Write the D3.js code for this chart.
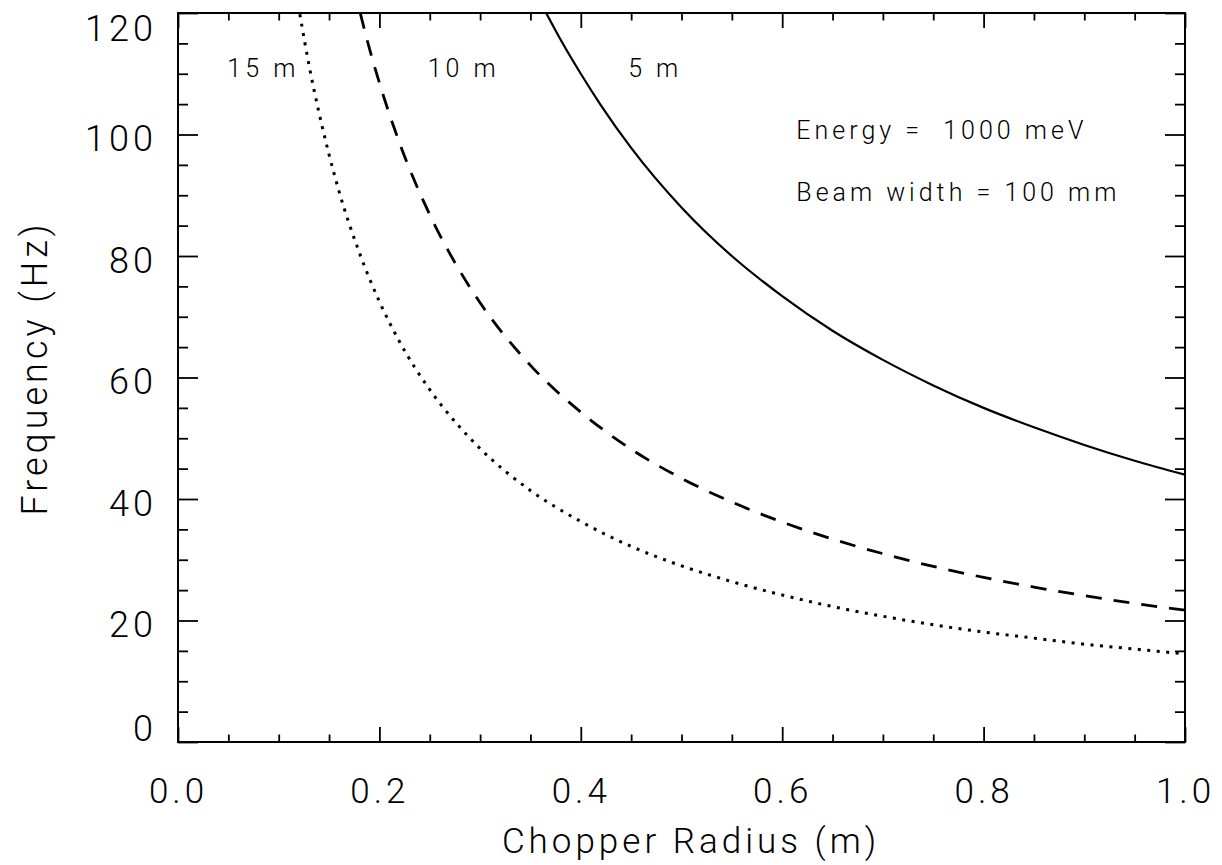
<!DOCTYPE html>
<html>
<head>
<meta charset="utf-8">
<script src="https://cdn.jsdelivr.net/npm/d3@7"></script>
<style>
  body { margin: 0; background: #fff; }
  svg text { font-family: Roboto, "DejaVu Sans", sans-serif; font-weight: 300; fill: #000; }
</style>
</head>
<body>
<svg id="chart"></svg>
<script>
// values (frequency in Hz vs chopper radius in m)
const radius5 = [0.364, 0.38, 0.40, 0.42, 0.45, 0.50, 0.55, 0.60, 0.65, 0.70, 0.75, 0.80, 0.85, 0.90, 0.95, 1.00];
const freq5 = [120.5, 115.6, 110.0, 104.8, 97.8, 88.0, 80.0, 73.4, 67.7, 62.9, 58.7, 55.0, 51.8, 48.9, 46.3, 44.0];

const radius10 = [0.181, 0.19, 0.20, 0.22, 0.25, 0.28, 0.30, 0.35, 0.40, 0.45, 0.50, 0.55, 0.60, 0.65, 0.70, 0.75, 0.80, 0.85, 0.90, 0.95, 1.00];
const freq10 = [120.0, 114.2, 108.5, 98.6, 86.8, 77.5, 72.3, 62.0, 54.3, 48.2, 43.4, 39.5, 36.2, 33.4, 31.0, 28.9, 27.1, 25.5, 24.1, 22.8, 21.7];

const radius15 = [0.121, 0.13, 0.14, 0.15, 0.16, 0.18, 0.20, 0.22, 0.25, 0.28, 0.30, 0.35, 0.40, 0.45, 0.50, 0.55, 0.60, 0.65, 0.70, 0.75, 0.80, 0.85, 0.90, 0.95, 1.00];
const freq15 = [119.8, 111.5, 103.6, 96.7, 90.6, 80.6, 72.5, 65.9, 58.0, 51.8, 48.3, 41.4, 36.3, 32.2, 29.0, 26.4, 24.2, 22.3, 20.7, 19.3, 18.1, 17.1, 16.1, 15.3, 14.5];

const seriesNames = ["5 m", "10 m", "15 m"];
const xTicks = [0, 0.2, 0.4, 0.6, 0.8, 1.0];
const xMinor = [0.05, 0.1, 0.15, 0.25, 0.3, 0.35, 0.45, 0.5, 0.55, 0.65, 0.7, 0.75, 0.85, 0.9, 0.95];
const yTicks = [0, 20, 40, 60, 80, 100, 120];
const yMinor = [5, 10, 15, 25, 30, 35, 45, 50, 55, 65, 70, 75, 85, 90, 95, 105, 110, 115];
const notes = ["Energy =  1000 meV", "Beam width = 100 mm"];
const xTitle = "Chopper Radius (m)";
const yTitle = "Frequency (Hz)";

const width = 1222;
const height = 865;
const margin = { top: 13, right: 37, bottom: 123, left: 178 };

const svg = d3.select("#chart").attr("width", width).attr("height", height);

const x = d3.scaleLinear().domain([0, 1]).range([margin.left, width - margin.right]);
const y = d3.scaleLinear().domain([0, 120]).range([height - margin.bottom, margin.top]);

// clip so curves stop at the frame
svg.append("clipPath").attr("id", "plot")
    .append("rect")
    .attr("x", x(0)).attr("y", y(120))
    .attr("width", x(1) - x(0)).attr("height", y(0) - y(120));

// ticks, all pointing into the plot
const tickStyle = g => {
    g.select(".domain").remove();
    g.selectAll(".tick line").attr("stroke", "#000").attr("stroke-width", 1.8);
};

svg.append("g")
    .attr("transform", `translate(0, ${y(0)})`)
    .call(d3.axisBottom(x).tickValues(xTicks).tickSizeInner(-15).tickSizeOuter(0)
        .tickPadding(36).tickFormat(d3.format(".1f")))
    .call(tickStyle)
    .selectAll("text")
    .attr("font-size", "35px")
    .attr("letter-spacing", "4px");

svg.append("g")
    .attr("transform", `translate(0, ${y(0)})`)
    .call(d3.axisBottom(x).tickValues(xMinor).tickSize(-7.5).tickFormat(""))
    .call(tickStyle);

svg.append("g")
    .attr("transform", `translate(0, ${y(120)})`)
    .call(d3.axisTop(x).tickValues(xTicks).tickSize(-15).tickFormat(""))
    .call(tickStyle);

svg.append("g")
    .attr("transform", `translate(0, ${y(120)})`)
    .call(d3.axisTop(x).tickValues(xMinor).tickSize(-7.5).tickFormat(""))
    .call(tickStyle);

const yAxis = svg.append("g")
    .attr("transform", `translate(${x(0)}, 0)`)
    .call(d3.axisLeft(y).tickValues(yTicks).tickSizeInner(-20).tickSizeOuter(0).tickPadding(21))
    .call(tickStyle);

// end labels sit inside the frame, as in the original
yAxis.selectAll(".tick text")
    .attr("font-size", "36px")
    .attr("letter-spacing", "4px")
    .attr("dy", null)
    .attr("dominant-baseline", "central")
    .attr("y", d => Math.min(Math.max(y(d) + 4, y(120) + 15), y(0) - 14) - y(d));

svg.append("g")
    .attr("transform", `translate(${x(0)}, 0)`)
    .call(d3.axisLeft(y).tickValues(yMinor).tickSize(-10).tickFormat(""))
    .call(tickStyle);

svg.append("g")
    .attr("transform", `translate(${x(1)}, 0)`)
    .call(d3.axisRight(y).tickValues(yTicks).tickSize(-20).tickFormat(""))
    .call(tickStyle);

svg.append("g")
    .attr("transform", `translate(${x(1)}, 0)`)
    .call(d3.axisRight(y).tickValues(yMinor).tickSize(-10).tickFormat(""))
    .call(tickStyle);

// frame
svg.append("rect")
    .attr("x", x(0)).attr("y", y(120))
    .attr("width", x(1) - x(0)).attr("height", y(0) - y(120))
    .attr("fill", "none")
    .attr("stroke", "#000")
    .attr("stroke-width", 2);

// curves
const line = d3.line()
    .x(d => x(d[0]))
    .y(d => y(d[1]))
    .curve(d3.curveMonotoneX);

const curves = [
    { r: radius5, f: freq5, dash: null, w: 2.2 },
    { r: radius10, f: freq10, dash: "16,12", w: 2.8 },
    { r: radius15, f: freq15, dash: "3,6.5", w: 3 }
];

svg.append("g")
    .attr("clip-path", "url(#plot)")
    .selectAll("path")
    .data(curves)
    .join("path")
    .attr("d", c => line(d3.zip(c.r, c.f)))
    .attr("fill", "none")
    .attr("stroke", "#000")
    .attr("stroke-width", c => c.w)
    .attr("stroke-dasharray", c => c.dash);

// curve names along the top
const nameAt = [[0.447, 109.5], [0.248, 109.5], [0.049, 109.5]];
svg.append("g")
    .selectAll("text")
    .data(seriesNames)
    .join("text")
    .attr("x", (d, i) => x(nameAt[i][0]))
    .attr("y", (d, i) => y(nameAt[i][1]))
    .attr("font-size", "25px")
    .attr("font-weight", 400)
    .attr("letter-spacing", "4px")
    .style("white-space", "pre")
    .text(d => d);

// run parameters
svg.append("g")
    .selectAll("text")
    .data(notes)
    .join("text")
    .attr("x", x(0.614))
    .attr("y", (d, i) => y(i === 0 ? 99.3 : 89.0))
    .attr("font-size", "25px")
    .attr("font-weight", 400)
    .attr("letter-spacing", "4px")
    .style("white-space", "pre")
    .text(d => d);

// axis titles
svg.append("text")
    .attr("x", 691)
    .attr("y", 853)
    .attr("text-anchor", "middle")
    .attr("font-size", "35px")
    .attr("letter-spacing", "4px")
    .text(xTitle);

svg.append("text")
    .attr("transform", `translate(47, 368) rotate(-90)`)
    .attr("text-anchor", "middle")
    .attr("font-size", "36px")
    .attr("letter-spacing", "4px")
    .text(yTitle);
</script>
</body>
</html>
